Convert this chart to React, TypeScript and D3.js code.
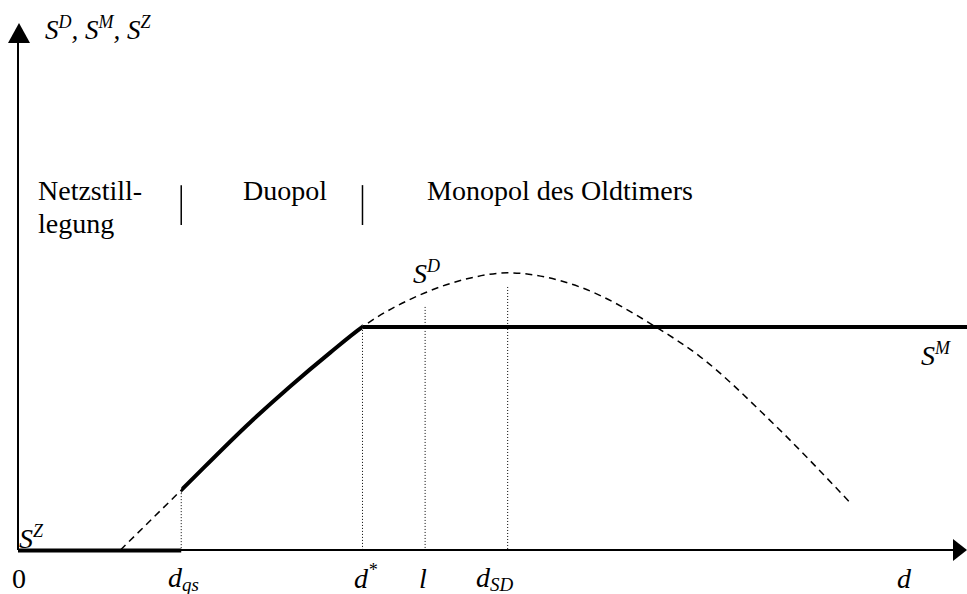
import * as d3 from 'd3';
import React from 'react';

// S^D curve, d on x, surplus on y
const curveD = [10.8, 17.2, 24.4, 28.7, 32.9, 36.3, 42.9, 47.2, 51.6, 59.2, 67.2, 71.9, 78.9, 87.9];
const curveS = [0, 11.4, 24.2, 31.2, 37.6, 42.5, 49.0, 51.6, 52.8, 50.1, 42.5, 36.8, 25.3, 8.6];

// key points on the d axis
const dQs = 17.2;
const dStar = 36.3;
const lVal = 42.9;
const dSD = 51.6;
const dEnd = 100;

// monopoly level S^M
const sM = 42.5;

// tops of the dotted guide lines
const guideD = [dQs, dStar, lVal, dSD];
const guideTop = [11.4, 42.5, 46.3, 50.1];

// regime separators
const sepD = [dQs, dStar];
const sepRange = [69.5, 61.9];

const regimes = ['Netzstill-', 'legung', 'Duopol', 'Monopol des Oldtimers'];

const W = 967;
const H = 594;
const FONT = 'Liberation Serif, Tinos, Times New Roman, DejaVu Serif, serif';

const x = d3.scaleLinear().domain([0, 100]).range([18, 967]);
const y = d3.scaleLinear().domain([0, 100]).range([550, 25]);

const pts: [number, number][] = curveD.map((d, i) => [d, curveS[i]]);

const line = d3
  .line<[number, number]>()
  .x((p) => x(p[0]))
  .y((p) => y(p[1]))
  .curve(d3.curveMonotoneX);

const Sup = ({ base, sup, size = 28, supSize = 18 }: { base: string; sup: string; size?: number; supSize?: number }) => (
  <>
    <tspan fontSize={size}>{base}</tspan>
    <tspan fontSize={supSize} dy={-11}>{sup}</tspan>
  </>
);

const App = () => {
  const axisY = y(0);
  return (
    <svg width={W} height={H} style={{ position: 'absolute', left: 0, top: 0, background: 'white' }}>
      <defs>
        <clipPath id="duo">
          <rect x={x(dQs)} y={0} width={x(dStar) - x(dQs)} height={H} />
        </clipPath>
      </defs>

      {/* axes */}
      <line x1={x(0)} y1={axisY} x2={953} y2={axisY} stroke="black" strokeWidth={2} />
      <polygon points={`953,${axisY - 11} 967,${axisY} 953,${axisY + 11}`} fill="black" />
      <line x1={x(0)} y1={axisY} x2={x(0)} y2={43} stroke="black" strokeWidth={2} />
      <polygon points={`8,43 ${x(0) + 1},23 30,43`} fill="black" />

      {/* dotted guides */}
      {guideD.map((d, i) => (
        <line
          key={'g' + i}
          x1={x(d)}
          x2={x(d)}
          y1={y(guideTop[i])}
          y2={axisY}
          stroke="black"
          strokeWidth={1}
          strokeDasharray="1,2"
        />
      ))}

      {/* S^D dashed */}
      <path d={line(pts) ?? ''} fill="none" stroke="black" strokeWidth={1.5} strokeDasharray="7,5" />
      {/* solid duopoly part */}
      <path d={line(pts) ?? ''} fill="none" stroke="black" strokeWidth={4} clipPath="url(#duo)" />
      {/* S^M */}
      <line x1={x(dStar)} x2={x(dEnd)} y1={y(sM)} y2={y(sM)} stroke="black" strokeWidth={4} />
      {/* S^Z */}
      <line x1={x(0)} x2={x(dQs)} y1={axisY + 0.5} y2={axisY + 0.5} stroke="black" strokeWidth={4} />

      {/* regime separators */}
      {sepD.map((d, i) => (
        <line key={'s' + i} x1={x(d)} x2={x(d)} y1={y(sepRange[0])} y2={y(sepRange[1])} stroke="black" strokeWidth={1.5} />
      ))}

      <g fontFamily={FONT} fontSize={28} fill="black">
        <text x={38} y={200}>{regimes[0]}</text>
        <text x={38} y={233}>{regimes[1]}</text>
        <text x={243} y={200}>{regimes[2]}</text>
        <text x={427} y={200}>{regimes[3]}</text>

        <text x={12} y={588}>0</text>
      </g>

      <g fontFamily={FONT} fontStyle="italic" fill="black">
        {/* y axis title */}
        <text x={45} y={39} fontSize={27}>
          <Sup base="S" sup="D" size={27} supSize={18} />
          <tspan fontSize={27} dy={11}>, </tspan>
          <Sup base="S" sup="M" size={27} supSize={18} />
          <tspan fontSize={27} dy={11}>, </tspan>
          <Sup base="S" sup="Z" size={27} supSize={18} />
        </text>

        <text x={413} y={283} fontSize={28}><Sup base="S" sup="D" /></text>
        <text x={921} y={365} fontSize={28}><Sup base="S" sup="M" /></text>
        <text x={19} y={548} fontSize={28}><Sup base="S" sup="Z" /></text>

        {/* d axis labels */}
        <text x={168} y={587} fontSize={28}>
          d<tspan fontSize={19} dy={4}>qs</tspan>
        </text>
        <text x={354} y={588} fontSize={28}>
          d<tspan fontSize={18} dy={-12}>*</tspan>
        </text>
        <text x={419} y={588} fontSize={28}>l</text>
        <text x={476} y={587} fontSize={28}>
          d<tspan fontSize={19} dy={4}>SD</tspan>
        </text>
        <text x={897} y={588} fontSize={28}>d</text>
      </g>
    </svg>
  );
};

export default App;
